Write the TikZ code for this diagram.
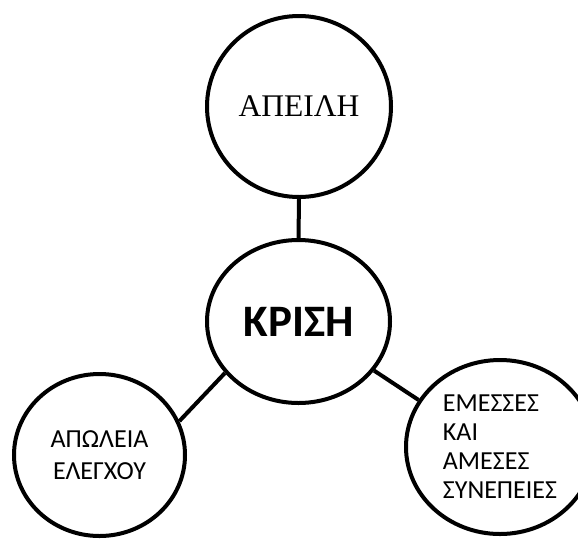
\documentclass[tikz,border=0pt]{standalone}
\usepackage{fontspec}
\setmainfont{Liberation Serif}
\newfontfamily\calibri{Carlito}
\usetikzlibrary{shapes.geometric}

\begin{document}
\begin{tikzpicture}[x=1pt,y=1pt,
	bubble/.style={draw,ellipse,line width=4pt,inner sep=0pt},
	link/.style={line width=4pt}]
	\useasboundingbox (0,0) rectangle (578,-539);
	
	\node (T)[bubble,minimum width=184pt,minimum height=181pt,font=\fontsize{31.5}{36}\selectfont] at (299,-106.5) {ΑΠΕΙΛΗ};
	\node (K)[bubble,minimum width=183pt,minimum height=163pt,font=\calibri\bfseries\fontsize{45}{50}\selectfont] at (298.5,-321.5) {ΚΡΙΣΗ};
	\node (L)[bubble,minimum width=171pt,minimum height=162pt,align=center,font=\calibri\fontsize{26}{31.5}\selectfont] at (99.5,-455) {ΑΠΩΛΕΙΑ\\ΕΛΕΓΧΟΥ};
	\node (E)[bubble,minimum width=188pt,minimum height=174pt,align=left,font=\calibri\fontsize{26}{29}\selectfont] at (500,-447) {ΕΜΕΣΣΕΣ\\ΚΑΙ\\ΑΜΕΣΕΣ\\ΣΥΝΕΠΕΙΕΣ};
	
	\draw[link] (K.90)--(T.270);
	\draw[link] (K.215)--(L.23);
	\draw[link] (K.327)--(E.150);
\end{tikzpicture}
\end{document}
